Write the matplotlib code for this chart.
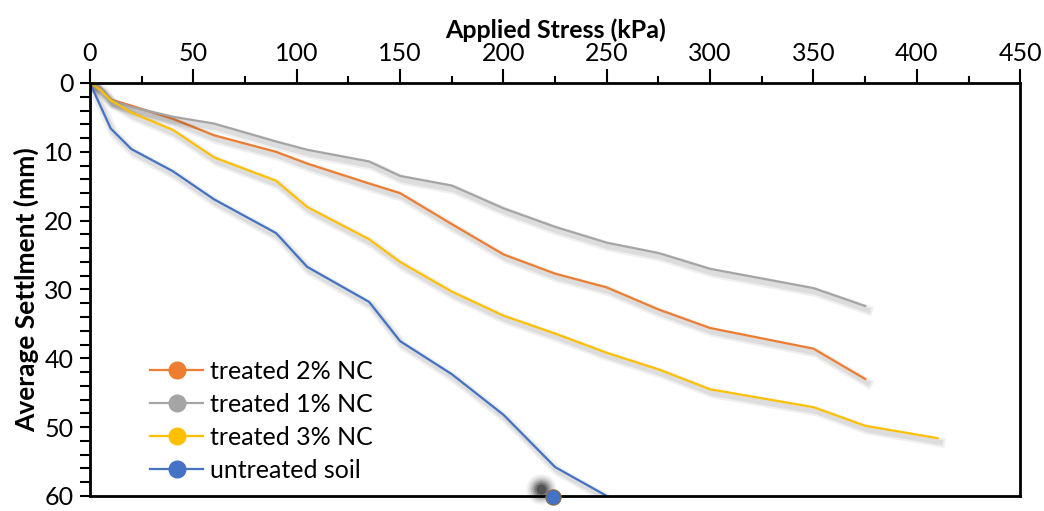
import matplotlib
matplotlib.use("Agg")
import matplotlib.pyplot as plt
import matplotlib.patheffects as pe
from matplotlib.ticker import MultipleLocator

# -----------------------------------
# data
# -----------------------------------
stress_1 = [0, 5, 10, 20, 40, 60, 90, 105, 135, 150, 175, 200, 225, 250, 275, 300, 350, 375]
settle_1 = [0, 0.5, 2.5, 3.5, 4.9, 5.9, 8.5, 9.7, 11.4, 13.5, 14.9, 18.2, 20.9, 23.2, 24.7, 27.0, 29.8, 32.4]

stress_2 = [0, 5, 10, 20, 40, 60, 90, 105, 135, 150, 175, 200, 225, 250, 275, 300, 350, 375]
settle_2 = [0, 0.8, 2.4, 3.3, 5.2, 7.6, 10.0, 11.7, 14.6, 16.0, 20.5, 24.9, 27.7, 29.7, 32.9, 35.6, 38.6, 43.0]

stress_3 = [0, 5, 10, 20, 40, 60, 90, 105, 135, 150, 175, 200, 225, 250, 275, 300, 350, 375, 410]
settle_3 = [0, 1.0, 2.5, 4.3, 6.8, 10.8, 14.2, 18.0, 22.7, 26.0, 30.3, 33.8, 36.4, 39.2, 41.6, 44.5, 47.1, 49.8, 51.6]

stress_u = [0, 10, 20, 40, 60, 90, 105, 135, 150, 175, 200, 225, 250]
settle_u = [0, 6.6, 9.6, 12.8, 16.9, 21.8, 26.7, 31.8, 37.5, 42.3, 48.2, 55.8, 60.0]

# stray marker sitting on the bottom axis
stray_x = [224]
stray_y = [60.2]

labels = ["treated 2% NC", "treated 1% NC", "treated 3% NC", "untreated soil"]
colors = ["#ED7D31", "#A5A5A5", "#FFC000", "#4472C4"]

plt.rcParams['font.family'] = ['Lato', 'DejaVu Sans']

fig = plt.figure(figsize=(10.44, 5.11), dpi=100)
ax = fig.add_axes([0.0862, 0.0294, 0.891, 0.8082])

shadow = [pe.SimpleLineShadow(offset=(2, -3), shadow_color='black', alpha=0.06, linewidth=7),
          pe.SimpleLineShadow(offset=(2, -3), shadow_color='black', alpha=0.08, linewidth=4),
          pe.Normal()]

series = [(stress_2, settle_2), (stress_1, settle_1), (stress_3, settle_3), (stress_u, settle_u)]
for (xs, ys), lab, col in zip(series, labels, colors):
    ax.plot(xs, ys, color=col, lw=1.6, path_effects=shadow)
    # legend-only handle with round marker
    ax.plot([], [], color=col, lw=1.6, marker='o', markersize=12,
            markeredgecolor=col, label=lab)

# blurred dark blob + blue marker near x=225 on the bottom edge
for s, a in [(22, 0.05), (19, 0.08), (16, 0.12), (13, 0.18), (10, 0.25), (7, 0.3)]:
    ax.plot([218], [59.0], 'o', color='black', markersize=s, alpha=a,
            markeredgewidth=0, clip_on=False)
ax.plot(stray_x, stray_y, 'o', color=colors[3], markersize=11,
        markeredgecolor='#8a6a40', markeredgewidth=0.8, clip_on=False, zorder=5)

ax.set_xlim(0, 450)
ax.set_ylim(60, 0)
ax.xaxis.tick_top()
ax.xaxis.set_label_position('top')
ax.xaxis.set_major_locator(MultipleLocator(50))
ax.xaxis.set_minor_locator(MultipleLocator(25))
ax.yaxis.set_major_locator(MultipleLocator(10))
ax.yaxis.set_minor_locator(MultipleLocator(2))

for sp in ax.spines.values():
    sp.set_linewidth(2)
    sp.set_color('black')

ax.tick_params(axis='both', which='major', direction='out', length=7, width=1.5,
               labelsize=18, pad=5)
ax.tick_params(axis='x', which='minor', direction='out', length=5, width=1.5)
ax.tick_params(axis='y', which='minor', direction='out', length=7, width=1.5)
ax.tick_params(axis='x', which='major', length=10, pad=3)

ax.set_xlabel("Applied Stress (kPa)", fontsize=18, fontweight='bold', labelpad=3)
ax.set_ylabel("Average Settlment (mm)", fontsize=19, fontweight='bold', labelpad=4)

ax.legend(loc='lower left', bbox_to_anchor=(0.065, 0.035), frameon=False, fontsize=18,
          handlelength=2.1, handletextpad=0.3, labelspacing=0.4,
          borderpad=0, borderaxespad=0)

fig.savefig("out.png", dpi=100)
